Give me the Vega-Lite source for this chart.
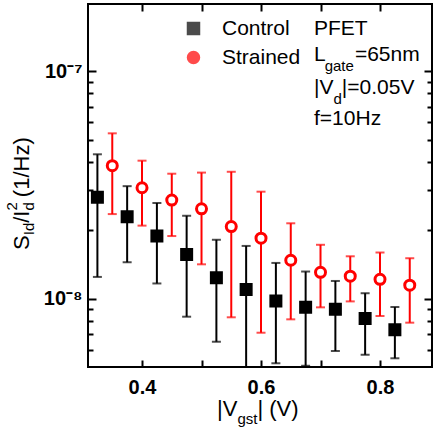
{
  "$schema": "https://vega.github.io/schema/vega-lite/v6.json",
  "autosize": {"type": "none"},
  "padding": {"left": 88, "top": 4, "right": 4, "bottom": 65},
  "width": 344,
  "height": 363,
  "datasets": {
    "main": [
      {"series": "Strained", "x": 0.35, "y": 3.85e-8, "lo": 2.36e-8, "hi": 5.34e-8},
      {"series": "Strained", "x": 0.40, "y": 3.08e-8, "lo": 2.10e-8, "hi": 4.05e-8},
      {"series": "Strained", "x": 0.45, "y": 2.72e-8, "lo": 1.89e-8, "hi": 3.55e-8},
      {"series": "Strained", "x": 0.50, "y": 2.49e-8, "lo": 1.42e-8, "hi": 3.59e-8},
      {"series": "Strained", "x": 0.55, "y": 2.08e-8, "lo": 8.31e-9, "hi": 3.62e-8},
      {"series": "Strained", "x": 0.60, "y": 1.85e-8, "lo": 7.11e-9, "hi": 2.96e-8},
      {"series": "Strained", "x": 0.65, "y": 1.48e-8, "lo": 8.14e-9, "hi": 2.15e-8},
      {"series": "Strained", "x": 0.70, "y": 1.31e-8, "lo": 9.19e-9, "hi": 1.73e-8},
      {"series": "Strained", "x": 0.75, "y": 1.26e-8, "lo": 9.76e-9, "hi": 1.54e-8},
      {"series": "Strained", "x": 0.80, "y": 1.22e-8, "lo": 8.42e-9, "hi": 1.60e-8},
      {"series": "Strained", "x": 0.85, "y": 1.15e-8, "lo": 7.87e-9, "hi": 1.51e-8},
      {"series": "Control", "x": 0.325, "y": 2.80e-8, "lo": 1.25e-8, "hi": 4.32e-8},
      {"series": "Control", "x": 0.375, "y": 2.30e-8, "lo": 1.45e-8, "hi": 3.13e-8},
      {"series": "Control", "x": 0.425, "y": 1.89e-8, "lo": 1.17e-8, "hi": 2.64e-8},
      {"series": "Control", "x": 0.475, "y": 1.57e-8, "lo": 8.36e-9, "hi": 2.32e-8},
      {"series": "Control", "x": 0.525, "y": 1.24e-8, "lo": 6.49e-9, "hi": 1.82e-8},
      {"series": "Control", "x": 0.575, "y": 1.10e-8, "lo": 4.0e-9, "hi": 1.71e-8},
      {"series": "Control", "x": 0.625, "y": 9.80e-9, "lo": 5.22e-9, "hi": 1.44e-8},
      {"series": "Control", "x": 0.675, "y": 9.19e-9, "lo": 5.09e-9, "hi": 1.32e-8},
      {"series": "Control", "x": 0.725, "y": 9.01e-9, "lo": 5.91e-9, "hi": 1.20e-8},
      {"series": "Control", "x": 0.775, "y": 8.20e-9, "lo": 5.69e-9, "hi": 1.06e-8},
      {"series": "Control", "x": 0.825, "y": 7.33e-9, "lo": 5.49e-9, "hi": 9.22e-9}
    ],
    "ann": [
      {"x": 0.6891, "y": 1.444e-7, "t": "PFET"},
      {"x": 0.6891, "y": 1.110e-7, "t": "L"},
      {"x": 0.7578, "y": 1.110e-7, "t": "=65nm"},
      {"x": 0.6891, "y": 7.95e-8, "t": "|V"},
      {"x": 0.7358, "y": 7.95e-8, "t": "|=0.05V"},
      {"x": 0.6891, "y": 5.81e-8, "t": "f=10Hz"}
    ],
    "annsub": [
      {"x": 0.7070, "y": 1.003e-7, "t": "gate"},
      {"x": 0.7218, "y": 7.18e-8, "t": "d"}
    ],
    "xt": [
      {"x": 0.5261, "y": 3.05e-9, "t": "|V"},
      {"x": 0.5939, "y": 3.05e-9, "t": "| (V)"}
    ],
    "xtsub": [
      {"x": 0.5604, "y": 2.82e-9, "t": "gst"}
    ],
    "yt": [
      {"x": 0.2101, "y": 1.641e-8, "t": "S"},
      {"x": 0.2101, "y": 2.161e-8, "t": "/I"},
      {"x": 0.2101, "y": 2.80e-8, "t": "(1/Hz)"}
    ],
    "ytsub": [
      {"x": 0.2185, "y": 1.905e-8, "t": "Id"},
      {"x": 0.2185, "y": 2.444e-8, "t": "d"},
      {"x": 0.1899, "y": 2.444e-8, "t": "2"}
    ]
  },
  "resolve": {"axis": {"x": "independent", "y": "independent"}},
  "layer": [
    {
      "data": {"name": "main"},
      "mark": {"type": "rule", "strokeWidth": 2, "clip": true},
      "encoding": {
        "x": {"field": "x", "type": "quantitative",
          "scale": {"domain": [0.3092, 0.8874], "nice": false, "zero": false},
          "axis": {"orient": "bottom", "values": [0.4, 0.5, 0.6, 0.7, 0.8],
            "labelExpr": "datum.value == 0.5 || datum.value == 0.7 ? '' : format(datum.value, '.1f')",
            "ticks": true, "tickSize": -7,
            "labelPadding": 17, "labelFlush": false, "labelOverlap": false, "title": null}},
        "y": {"field": "lo", "type": "quantitative",
          "scale": {"type": "log", "domain": [5.027e-9, 1.975e-7], "nice": false},
          "axis": {"orient": "left",
            "values": [6e-9, 7e-9, 8e-9, 9e-9, 1e-8, 2e-8, 3e-8, 4e-8, 5e-8, 6e-8, 7e-8, 8e-8, 9e-8, 1e-7],
            "labelExpr": "datum.value == 1e-7 ? '10⁻⁷' : datum.value == 1e-8 ? '10⁻⁸' : ''",
            "tickSize": {"condition": {"test": "datum.value == 1e-8 || datum.value == 1e-7", "value": -8}, "value": -5},
            "labelPadding": 14, "labelFlush": false, "labelOverlap": false, "title": null}},
        "y2": {"field": "hi"},
        "color": {"field": "series", "type": "nominal",
          "scale": {"domain": ["Control", "Strained"], "range": ["#000000", "#ff0000"]},
          "legend": {"orient": "none", "legendX": 95, "legendY": 14, "title": null,
            "labelFontSize": 21, "labelFont": "Liberation Sans", "labelColor": "black",
            "symbolType": "square", "symbolSize": 110, "symbolStrokeWidth": 3,
            "labelOffset": 18, "rowPadding": 6, "padding": 0,
            "encoding": {"symbols": {"update": {
              "shape": {"signal": "datum.value === 'Control' ? 'square' : 'circle'"},
              "fill": {"signal": "datum.value === 'Control' ? '#000000' : '#ffffff'"},
              "stroke": {"signal": "datum.value === 'Control' ? '#000000' : '#ff0000'"},
              "strokeWidth": {"value": 3}}}}}}
      }
    },
    {
      "data": {"name": "main"},
      "mark": {"type": "tick", "orient": "horizontal", "size": 9, "thickness": 2, "clip": true},
      "encoding": {
        "x": {"field": "x", "type": "quantitative",
          "axis": {"orient": "top", "values": [0.4, 0.5, 0.6, 0.7, 0.8], "labels": false,
            "ticks": true, "tickSize": -7, "title": null}},
        "y": {"field": "hi", "type": "quantitative",
          "axis": {"orient": "right",
            "values": [6e-9, 7e-9, 8e-9, 9e-9, 1e-8, 2e-8, 3e-8, 4e-8, 5e-8, 6e-8, 7e-8, 8e-8, 9e-8, 1e-7],
            "labels": false,
            "tickSize": {"condition": {"test": "datum.value == 1e-8 || datum.value == 1e-7", "value": -8}, "value": -5},
            "title": null}},
        "color": {"field": "series", "type": "nominal"}
      }
    },
    {
      "data": {"name": "main"},
      "mark": {"type": "tick", "orient": "horizontal", "size": 9, "thickness": 2, "clip": true},
      "encoding": {
        "x": {"field": "x", "type": "quantitative", "axis": null},
        "y": {"field": "lo", "type": "quantitative", "axis": null},
        "color": {"field": "series", "type": "nominal"}
      }
    },
    {
      "data": {"name": "main"},
      "mark": {"type": "point", "size": 100, "strokeWidth": 3, "opacity": 1, "filled": false},
      "encoding": {
        "x": {"field": "x", "type": "quantitative", "axis": null},
        "y": {"field": "y", "type": "quantitative", "axis": null},
        "shape": {"field": "series", "type": "nominal",
          "scale": {"domain": ["Control", "Strained"], "range": ["square", "circle"]}, "legend": null},
        "stroke": {"field": "series", "type": "nominal",
          "scale": {"domain": ["Control", "Strained"], "range": ["#000000", "#ff0000"]}, "legend": null},
        "fill": {"field": "series", "type": "nominal",
          "scale": {"domain": ["Control", "Strained"], "range": ["#000000", "#ffffff"]}, "legend": null}
      }
    },
    {
      "data": {"name": "ann"},
      "mark": {"type": "text", "align": "left", "baseline": "alphabetic", "fontSize": 21, "font": "Liberation Sans", "color": "black"},
      "encoding": {
        "x": {"field": "x", "type": "quantitative", "axis": null},
        "y": {"field": "y", "type": "quantitative", "axis": null},
        "text": {"field": "t"}
      }
    },
    {
      "data": {"name": "annsub"},
      "mark": {"type": "text", "align": "left", "baseline": "alphabetic", "fontSize": 15, "font": "Liberation Sans", "color": "black"},
      "encoding": {
        "x": {"field": "x", "type": "quantitative", "axis": null},
        "y": {"field": "y", "type": "quantitative", "axis": null},
        "text": {"field": "t"}
      }
    },
    {
      "data": {"name": "xt"},
      "mark": {"type": "text", "align": "left", "baseline": "alphabetic", "fontSize": 22, "font": "Liberation Sans", "color": "black"},
      "encoding": {
        "x": {"field": "x", "type": "quantitative", "axis": null},
        "y": {"field": "y", "type": "quantitative", "axis": null},
        "text": {"field": "t"}
      }
    },
    {
      "data": {"name": "xtsub"},
      "mark": {"type": "text", "align": "left", "baseline": "alphabetic", "fontSize": 15, "font": "Liberation Sans", "color": "black"},
      "encoding": {
        "x": {"field": "x", "type": "quantitative", "axis": null},
        "y": {"field": "y", "type": "quantitative", "axis": null},
        "text": {"field": "t"}
      }
    },
    {
      "data": {"name": "yt"},
      "mark": {"type": "text", "align": "left", "baseline": "alphabetic", "angle": 270, "fontSize": 22, "font": "Liberation Sans", "color": "black"},
      "encoding": {
        "x": {"field": "x", "type": "quantitative", "axis": null},
        "y": {"field": "y", "type": "quantitative", "axis": null},
        "text": {"field": "t"}
      }
    },
    {
      "data": {"name": "ytsub"},
      "mark": {"type": "text", "align": "left", "baseline": "alphabetic", "angle": 270, "fontSize": 15, "font": "Liberation Sans", "color": "black"},
      "encoding": {
        "x": {"field": "x", "type": "quantitative", "axis": null},
        "y": {"field": "y", "type": "quantitative", "axis": null},
        "text": {"field": "t"}
      }
    }
  ],
  "config": {
    "view": {"stroke": "black", "strokeWidth": 2},
    "font": "Liberation Sans",
    "axis": {"domain": false, "tickColor": "black", "tickWidth": 2,
      "labelFont": "Liberation Sans", "labelFontWeight": "bold", "labelFontSize": 20, "labelColor": "black", "grid": false}
  }
}
